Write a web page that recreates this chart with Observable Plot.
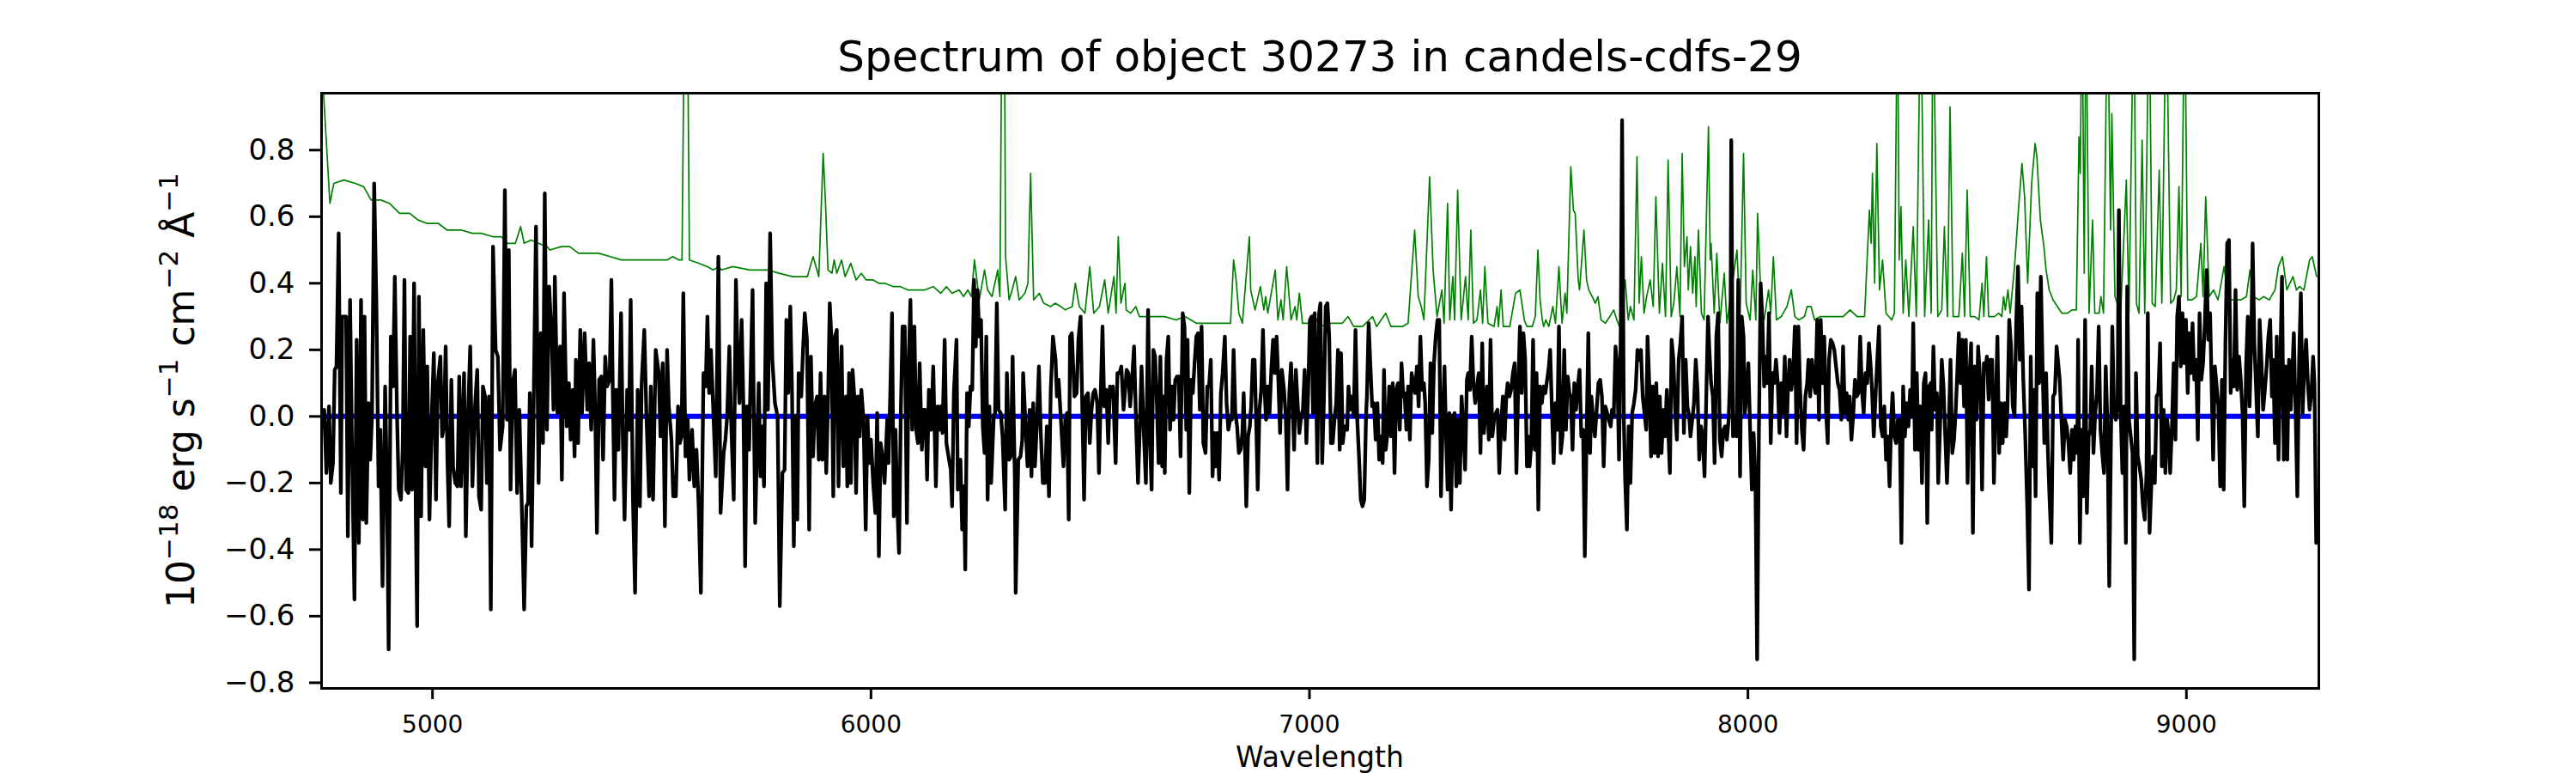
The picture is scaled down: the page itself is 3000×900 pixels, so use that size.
<!DOCTYPE html>
<html><head><meta charset="utf-8">
<script src="https://cdn.jsdelivr.net/npm/d3@7"></script>
<script src="https://cdn.jsdelivr.net/npm/@observablehq/plot@0.6"></script>
<style>
html,body{margin:0;padding:0;background:#fff;}
#chart{width:3000px;height:900px;}
</style></head><body><div id="chart"></div>
<script>
const titleText = "Spectrum of object 30273 in candels-cdfs-29";
const xLabelText = "Wavelength";
const yLabelParts = [["10",false],["\u221218",true],[" erg s",false],["\u22121",true],[" cm",false],["\u22122",true],[" \u00c5",false],["\u22121",true]];
const xTicks = [5000,6000,7000,8000,9000];
const yTicks = [-0.8,-0.6,-0.4,-0.2,0,0.2,0.4,0.6,0.8];
const xDomain = [4747, 9302];
const yDomain = [-0.817, 0.971];
const zeroLevel = [{x1: 4749, x2: 9285, y: 0}];

// observed spectrum [wavelength, flux]
const observed = [
[4749,-0.03],[4753,0.02],[4758,-0.17],[4764,0.03],[4768,-0.20],[4773,-0.14],[4777,0.14],[4781,0.15],[4786,0.55],[4791,-0.23],[4794,0.30],[4799,0.30],[4803,0.30],[4807,-0.36],[4812,0.35],[4816,-0.06],[4822,-0.55],[4827,0.23],[4832,-0.38],[4837,0.35],[4841,-0.31],[4845,0.30],[4849,-0.32],[4854,0.04],[4858,-0.13],[4862,0.00],[4867,0.70],[4872,0.34],[4877,-0.21],[4881,-0.04],[4886,-0.51],[4892,0.09],[4896,-0.20],[4900,-0.70],[4905,0.24],[4910,0.09],[4914,0.42],[4919,0.01],[4923,-0.22],[4928,-0.25],[4932,-0.10],[4936,0.41],[4940,-0.22],[4945,-0.23],[4949,0.24],[4953,-0.22],[4958,0.40],[4962,-0.31],[4965,-0.63],[4969,0.36],[4974,-0.30],[4979,0.26],[4984,-0.15],[4988,0.15],[4993,-0.31],[4999,0.03],[5003,0.19],[5008,-0.25],[5012,0.10],[5018,0.18],[5022,-0.06],[5026,-0.03],[5030,0.21],[5034,-0.13],[5038,-0.33],[5043,0.11],[5047,-0.15],[5052,-0.20],[5057,-0.21],[5061,0.12],[5065,-0.21],[5072,0.13],[5076,-0.36],[5081,0.00],[5086,0.21],[5091,-0.21],[5097,0.03],[5102,0.14],[5106,-0.24],[5111,-0.28],[5115,0.09],[5120,0.06],[5124,-0.20],[5129,0.06],[5133,-0.58],[5138,0.51],[5144,0.20],[5149,0.18],[5154,-0.10],[5160,-0.03],[5165,0.68],[5170,-0.01],[5174,0.50],[5178,-0.22],[5183,0.10],[5188,0.14],[5193,-0.23],[5198,0.02],[5204,-0.29],[5209,-0.58],[5214,-0.27],[5218,-0.26],[5222,0.07],[5226,-0.39],[5231,0.07],[5236,0.57],[5242,-0.20],[5247,0.25],[5252,-0.08],[5256,0.67],[5261,-0.04],[5266,0.39],[5272,0.23],[5276,0.02],[5279,0.42],[5285,0.01],[5291,0.21],[5295,-0.19],[5300,0.37],[5306,-0.03],[5311,0.10],[5315,-0.07],[5320,0.08],[5324,-0.12],[5327,0.17],[5332,-0.08],[5337,0.26],[5341,0.01],[5347,0.25],[5353,0.02],[5357,0.16],[5362,-0.04],[5367,0.23],[5371,0.02],[5375,-0.35],[5380,0.11],[5385,0.12],[5389,-0.13],[5394,0.18],[5398,0.09],[5404,0.11],[5408,0.41],[5411,0.09],[5415,-0.25],[5419,0.08],[5424,-0.10],[5430,0.31],[5434,-0.06],[5438,-0.31],[5444,0.08],[5448,-0.04],[5452,0.35],[5457,-0.24],[5462,-0.53],[5468,0.08],[5473,-0.27],[5477,0.10],[5483,0.26],[5488,0.00],[5494,-0.24],[5498,0.09],[5503,-0.25],[5509,0.20],[5516,0.13],[5520,-0.06],[5525,0.16],[5530,-0.33],[5535,0.20],[5539,0.03],[5545,-0.07],[5549,-0.24],[5555,-0.24],[5560,0.03],[5564,-0.08],[5568,-0.06],[5572,0.37],[5577,-0.12],[5582,-0.01],[5586,-0.19],[5592,-0.04],[5597,-0.21],[5602,-0.10],[5607,-0.27],[5612,-0.53],[5618,0.13],[5623,0.09],[5627,0.30],[5631,0.07],[5635,0.20],[5640,0.03],[5646,-0.18],[5652,0.48],[5657,-0.29],
[5664,-0.11],[5668,-0.07],[5672,0.00],[5677,0.21],[5681,-0.01],[5687,-0.25],[5692,0.41],[5696,0.17],[5700,0.04],[5705,0.29],[5709,0.04],[5713,-0.45],[5717,0.03],[5722,-0.10],[5724,0.03],[5730,0.38],[5732,0.11],[5736,-0.32],[5740,-0.10],[5744,0.10],[5748,-0.18],[5752,-0.03],[5756,-0.21],[5761,0.40],[5765,0.02],[5770,0.55],[5775,0.17],[5781,0.04],[5787,0.00],[5792,-0.57],[5798,-0.17],[5803,-0.16],[5807,0.29],[5811,0.07],[5816,0.33],[5820,0.07],[5824,-0.39],[5828,0.00],[5832,-0.31],[5835,0.13],[5841,0.06],[5845,0.20],[5849,0.31],[5854,0.23],[5859,-0.34],[5863,0.18],[5868,-0.12],[5872,0.03],[5877,0.06],[5881,-0.13],[5885,0.13],[5889,-0.13],[5894,0.06],[5898,-0.17],[5902,0.04],[5906,0.34],[5910,0.23],[5914,-0.24],[5918,0.24],[5922,0.26],[5926,-0.21],[5929,0.06],[5933,0.21],[5937,-0.15],[5943,0.06],[5946,-0.21],[5950,0.13],[5954,-0.20],[5958,0.14],[5962,0.06],[5966,-0.23],[5970,0.06],[5974,-0.06],[5978,0.08],[5983,-0.01],[5988,-0.34],[5992,0.00],[5996,-0.14],[6000,-0.07],[6005,-0.20],[6010,-0.29],[6014,0.01],[6018,-0.42],[6022,-0.08],[6027,-0.13],[6031,-0.20],[6037,-0.01],[6040,-0.14],[6044,0.07],[6048,0.31],[6052,-0.30],[6056,-0.04],[6060,-0.27],[6064,-0.41],[6068,0.01],[6072,0.27],[6077,0.27],[6082,-0.32],[6086,0.16],[6090,0.35],[6094,-0.04],[6099,0.27],[6103,-0.04],[6107,-0.08],[6111,0.16],[6116,-0.10],[6120,0.02],[6124,0.02],[6128,-0.19],[6132,0.08],[6137,-0.04],[6142,0.15],[6148,-0.21],[6152,0.03],[6155,-0.04],[6159,0.03],[6163,-0.05],[6168,0.23],[6172,-0.08],[6178,-0.13],[6182,-0.16],[6185,-0.27],[6189,0.07],[6195,0.23],[6198,-0.22],[6204,-0.13],[6208,-0.34],[6212,-0.21],[6215,-0.46],[6219,0.07],[6223,-0.03],[6227,0.09],[6231,0.08],[6235,0.41],[6239,0.21],[6243,0.38],[6247,0.24],[6251,0.29],[6255,-0.03],[6259,-0.11],[6263,0.24],[6266,-0.25],[6270,0.03],[6274,-0.20],[6280,0.00],[6283,0.01],[6287,0.34],[6291,0.02],[6296,0.01],[6300,-0.06],[6306,-0.28],[6310,0.13],[6315,-0.13],[6319,-0.12],[6323,0.18],[6328,-0.18],[6330,-0.53],[6336,-0.13],[6341,-0.12],[6345,-0.07],[6347,0.13],[6353,-0.04],[6357,-0.15],[6362,0.02],[6366,-0.18],[6370,0.04],[6374,-0.15],[6379,0.00],[6383,0.15],[6387,-0.04],[6392,-0.20],[6397,-0.20],[6401,-0.03],[6406,-0.24],[6410,0.08],[6415,0.24],[6421,0.17],[6424,0.06],[6428,0.11],[6434,-0.03],[6439,-0.15],[6443,-0.01],[6447,0.01],[6451,-0.31],[6454,0.24],[6458,0.25],[6464,0.06],[6469,0.07],[6473,0.23],[6478,0.30],[6482,0.02],[6486,-0.25],[6490,0.06],[6495,0.07],[6499,-0.08],[6503,0.02],[6507,0.07],[6511,0.08],[6516,0.04],[6520,-0.17],[6524,0.07],[6528,0.27],[6532,0.03],[6537,0.08],[6541,-0.08],[6545,0.09],[6549,0.06],[6552,0.09],[6558,-0.14],[6562,0.13],[6567,0.13],[6571,0.15],[6576,0.02],
[6579,0.07],[6583,0.14],[6587,0.13],[6591,0.03],[6594,0.08],[6600,0.21],[6605,-0.04],[6609,-0.20],[6613,-0.04],[6617,0.15],[6622,-0.04],[6627,-0.20],[6632,0.32],[6636,-0.06],[6640,-0.22],[6644,0.20],[6648,0.18],[6652,0.04],[6656,-0.14],[6660,0.18],[6664,-0.15],[6668,0.06],[6670,-0.17],[6674,0.17],[6678,0.24],[6682,-0.04],[6686,0.09],[6690,-0.01],[6694,0.11],[6698,0.12],[6702,0.12],[6706,-0.12],[6711,0.31],[6715,0.27],[6719,-0.04],[6722,0.23],[6726,-0.23],[6730,0.11],[6734,0.07],[6738,0.16],[6742,0.24],[6746,0.25],[6750,0.02],[6754,0.27],[6758,-0.08],[6763,-0.11],[6767,0.09],[6771,0.09],[6775,0.17],[6779,-0.18],[6783,-0.05],[6786,-0.15],[6790,-0.05],[6794,-0.19],[6798,0.07],[6802,0.13],[6807,0.24],[6811,0.04],[6815,-0.04],[6819,-0.01],[6823,-0.01],[6827,0.20],[6831,0.01],[6835,-0.03],[6839,-0.11],[6843,-0.10],[6847,-0.05],[6850,0.07],[6856,-0.27],[6860,-0.06],[6864,-0.03],[6867,0.03],[6871,0.17],[6875,0.17],[6879,-0.04],[6882,-0.22],[6886,0.02],[6890,0.08],[6894,0.26],[6897,0.10],[6901,-0.01],[6905,0.09],[6909,0.01],[6913,0.14],[6917,0.23],[6921,0.13],[6925,0.24],[6929,0.11],[6933,-0.05],[6937,0.14],[6942,0.08],[6946,0.00],[6950,-0.22],[6954,0.07],[6958,0.16],[6961,0.06],[6965,-0.10],[6969,0.14],[6973,0.04],[6977,-0.05],[6981,0.00],[6985,0.02],[6989,0.14],[6993,-0.08],[6997,0.07],[7001,0.29],[7005,0.30],[7008,0.01],[7012,0.31],[7018,-0.14],[7022,0.31],[7025,0.34],[7029,-0.14],[7033,0.05],[7037,0.33],[7041,0.34],[7045,0.24],[7049,-0.08],[7053,-0.08],[7057,-0.01],[7061,0.04],[7065,0.20],[7069,-0.10],[7072,0.19],[7076,-0.08],[7080,-0.03],[7086,-0.04],[7089,0.09],[7093,0.02],[7097,0.06],[7101,0.00],[7105,0.26],[7109,-0.01],[7113,-0.12],[7117,-0.25],[7121,-0.27],[7125,-0.25],[7129,0.00],[7131,0.06],[7135,0.28],[7139,0.15],[7143,0.03],[7147,0.04],[7151,-0.07],[7155,0.04],[7159,-0.13],[7163,-0.06],[7167,-0.14],[7170,0.14],[7174,-0.10],[7178,-0.05],[7182,0.09],[7186,-0.06],[7190,0.10],[7194,-0.17],[7198,0.08],[7202,0.10],[7206,-0.04],[7210,0.16],[7214,0.06],[7217,0.07],[7221,-0.04],[7225,0.09],[7229,-0.07],[7233,0.13],[7237,0.10],[7241,0.07],[7245,0.15],[7249,0.03],[7253,0.24],[7257,0.08],[7261,0.10],[7264,0.04],[7268,-0.21],[7272,-0.13],[7276,0.16],[7280,-0.05],[7284,0.16],[7288,0.24],[7292,0.29],[7296,0.29],[7300,-0.24],[7304,-0.01],[7308,0.15],[7311,-0.03],[7315,-0.22],[7319,0.01],[7323,-0.28],[7327,0.00],[7331,0.01],[7335,-0.21],[7339,-0.01],[7343,-0.20],[7347,0.06],[7351,-0.04],[7355,-0.16],[7359,0.11],[7362,0.13],[7366,0.08],[7370,0.24],[7374,0.10],[7378,0.04],[7382,0.09],[7386,0.13],[7390,-0.11],[7394,0.22],[7398,-0.05],[7402,0.03],[7405,0.09],[7409,-0.07],[7413,0.23],[7417,-0.06],[7421,-0.01],[7425,0.01],[7429,0.02],[7433,-0.17],[7437,-0.03],[7441,0.06],[7445,-0.07],[7449,0.06],[7452,0.10],[7456,0.06],[7460,0.08],[7464,0.13],[7468,0.16],[7472,-0.17],[7476,0.08],[7480,0.27],[7484,0.07],[7488,0.25],[7492,0.17],[7496,-0.15],
[7499,-0.06],[7502,-0.15],[7506,-0.08],[7510,0.23],[7514,-0.10],[7518,0.13],[7522,-0.28],[7526,0.09],[7530,0.04],[7534,0.09],[7538,0.07],[7542,0.11],[7546,0.15],[7549,0.20],[7553,0.02],[7557,-0.14],[7561,0.04],[7565,-0.04],[7569,0.27],[7573,-0.11],[7577,-0.06],[7581,0.20],[7585,-0.04],[7589,0.12],[7593,0.07],[7596,0.06],[7600,-0.10],[7604,0.10],[7608,0.02],[7612,0.09],[7616,0.14],[7620,-0.06],[7624,-0.04],[7628,-0.42],[7632,-0.06],[7636,0.25],[7640,-0.11],[7643,0.06],[7647,-0.01],[7651,-0.06],[7655,0.02],[7659,0.10],[7663,0.11],[7667,0.06],[7671,-0.15],[7675,0.03],[7679,0.01],[7683,-0.01],[7687,-0.03],[7690,0.02],[7694,0.00],[7698,0.21],[7702,0.15],[7706,-0.13],[7710,0.27],[7713,0.89],[7717,-0.01],[7720,-0.19],[7724,-0.34],[7728,-0.03],[7732,-0.20],[7736,0.01],[7740,0.04],[7744,0.08],[7748,0.20],[7752,0.17],[7756,0.20],[7760,0.06],[7764,0.01],[7768,-0.04],[7771,0.24],[7775,0.10],[7779,-0.12],[7783,0.09],[7787,-0.11],[7791,0.10],[7795,-0.12],[7799,0.06],[7803,-0.11],[7807,0.02],[7811,-0.06],[7815,0.08],[7818,-0.03],[7822,-0.17],[7826,0.23],[7830,0.17],[7834,0.02],[7838,-0.07],[7842,0.17],[7846,0.22],[7850,0.30],[7854,-0.05],[7858,0.17],[7862,0.03],[7866,0.00],[7869,-0.06],[7873,-0.01],[7877,0.04],[7881,0.17],[7885,0.08],[7889,-0.13],[7893,-0.03],[7897,-0.06],[7901,-0.18],[7905,0.06],[7909,0.30],[7912,0.20],[7916,0.10],[7920,0.06],[7924,-0.14],[7928,0.24],[7932,0.31],[7936,-0.07],[7940,-0.12],[7944,-0.04],[7948,-0.03],[7952,-0.07],[7956,-0.01],[7960,0.15],[7962,0.83],[7966,-0.06],[7970,0.00],[7974,-0.06],[7978,0.41],[7982,-0.18],[7986,0.30],[7990,0.24],[7993,0.01],[7997,0.07],[8001,0.16],[8005,-0.04],[8009,-0.22],[8013,-0.05],[8017,-0.18],[8021,-0.73],[8025,-0.05],[8029,0.40],[8033,0.29],[8037,0.09],[8040,0.18],[8044,0.10],[8048,0.31],[8052,-0.08],[8056,0.13],[8060,0.10],[8064,0.17],[8068,0.10],[8072,-0.05],[8076,0.10],[8080,0.01],[8084,0.18],[8088,-0.06],[8091,0.07],[8095,0.17],[8099,0.08],[8103,0.13],[8107,0.27],[8111,-0.08],[8115,0.27],[8119,0.08],[8123,-0.04],[8127,-0.10],[8131,0.06],[8135,0.10],[8138,0.17],[8142,0.06],[8146,0.17],[8150,0.10],[8154,0.07],[8158,0.29],[8162,-0.01],[8166,0.29],[8170,0.10],[8174,0.24],[8178,0.02],[8182,-0.08],[8185,0.17],[8189,0.23],[8193,0.22],[8197,0.20],[8201,0.15],[8205,0.10],[8209,0.08],[8213,-0.01],[8217,0.21],[8221,0.01],[8225,0.07],[8229,-0.01],[8232,0.06],[8236,-0.07],[8240,0.00],[8244,0.11],[8248,0.06],[8252,0.07],[8256,0.24],[8260,0.08],[8264,0.01],[8268,0.13],[8272,0.10],[8276,0.22],[8280,0.15],[8283,0.08],[8287,-0.06],[8291,0.06],[8295,0.17],[8299,0.27],[8303,-0.03],[8307,-0.06],[8311,0.03],[8315,-0.13],[8319,-0.06],[8323,-0.21],[8327,0.00],[8330,0.07],[8334,-0.06],[8338,-0.08],[8342,-0.01],[8346,-0.01],[8350,-0.38],[8354,0.09],[8358,-0.06],[8362,0.04],[8366,-0.03],[8370,0.08],[8374,0.00],[8377,0.28],[8381,-0.10],[8385,0.13],[8389,-0.10],[8393,0.03],[8397,-0.20],[8401,0.10],[8405,0.13],[8409,-0.32],[8413,0.09],[8417,0.10],
[8419,-0.04],[8423,0.21],[8427,0.02],[8431,0.07],[8434,-0.20],[8438,-0.04],[8442,0.17],[8446,0.09],[8450,-0.06],[8454,-0.20],[8458,-0.04],[8462,0.17],[8466,-0.11],[8470,-0.07],[8474,0.02],[8478,0.15],[8481,0.25],[8485,0.10],[8489,0.23],[8493,0.03],[8497,0.23],[8501,-0.20],[8505,0.11],[8509,0.22],[8513,-0.35],[8517,0.15],[8521,-0.01],[8525,0.21],[8530,0.10],[8534,-0.22],[8538,0.16],[8542,0.14],[8545,0.18],[8549,0.05],[8553,0.17],[8557,0.17],[8561,-0.20],[8565,0.03],[8569,0.24],[8573,-0.11],[8577,0.04],[8581,-0.08],[8585,0.04],[8589,-0.06],[8592,0.03],[8596,0.29],[8600,0.21],[8604,0.03],[8608,0.00],[8612,0.29],[8616,0.45],[8620,0.17],[8624,0.33],[8628,0.11],[8632,-0.04],[8637,-0.27],[8641,-0.52],[8645,0.18],[8649,-0.15],[8653,0.08],[8656,-0.24],[8660,0.37],[8664,0.10],[8668,0.42],[8672,0.15],[8676,-0.08],[8680,0.13],[8684,-0.10],[8688,-0.25],[8692,-0.38],[8696,0.06],[8700,0.07],[8704,0.21],[8707,0.17],[8711,0.11],[8715,-0.01],[8719,-0.13],[8723,-0.01],[8727,-0.03],[8731,-0.08],[8735,-0.17],[8739,-0.04],[8743,-0.13],[8747,-0.03],[8751,-0.11],[8753,0.23],[8757,-0.38],[8761,-0.04],[8765,-0.24],[8769,0.29],[8773,-0.29],[8777,-0.06],[8781,-0.04],[8784,0.15],[8788,-0.11],[8792,0.01],[8796,0.07],[8800,0.27],[8804,-0.04],[8808,-0.11],[8812,-0.17],[8816,0.15],[8820,-0.03],[8824,-0.51],[8828,-0.06],[8831,0.27],[8835,0.02],[8839,-0.01],[8843,0.03],[8846,0.62],[8850,0.02],[8854,-0.17],[8858,0.03],[8862,-0.38],[8865,0.39],[8869,-0.01],[8873,-0.06],[8877,-0.11],[8881,-0.73],[8885,0.13],[8889,-0.12],[8893,-0.15],[8897,-0.19],[8901,-0.27],[8905,-0.31],[8909,-0.17],[8912,0.31],[8916,-0.35],[8920,-0.21],[8924,-0.12],[8928,-0.20],[8932,0.06],[8936,0.07],[8940,0.22],[8944,-0.15],[8948,0.02],[8952,-0.17],[8956,-0.01],[8960,-0.06],[8963,-0.17],[8967,-0.03],[8971,0.16],[8975,-0.07],[8979,0.30],[8983,0.36],[8987,0.15],[8991,0.31],[8995,0.16],[8999,0.29],[9003,0.07],[9006,0.25],[9010,0.13],[9014,0.28],[9018,0.11],[9022,0.17],[9026,-0.07],[9030,0.31],[9034,0.11],[9038,0.16],[9042,0.28],[9046,0.44],[9050,0.23],[9054,0.31],[9057,0.13],[9061,-0.13],[9065,0.15],[9069,0.09],[9073,0.03],[9077,-0.21],[9081,0.11],[9085,-0.22],[9089,0.22],[9093,0.52],[9097,0.53],[9101,0.07],[9104,0.17],[9108,0.09],[9112,0.38],[9116,0.08],[9120,0.18],[9124,0.11],[9128,0.01],[9132,-0.27],[9136,0.15],[9140,0.30],[9144,0.03],[9148,0.23],[9151,0.52],[9155,0.22],[9159,0.08],[9163,-0.06],[9167,0.29],[9171,0.17],[9175,0.02],[9179,0.08],[9183,0.15],[9187,0.24],[9191,0.29],[9195,0.06],[9198,0.17],[9202,-0.08],[9206,0.24],[9210,-0.13],[9214,0.15],[9218,0.42],[9222,-0.13],[9226,0.15],[9230,-0.13],[9234,0.17],[9238,0.02],[9242,0.15],[9245,0.25],[9249,0.02],[9253,-0.24],[9257,0.17],[9261,0.37],[9265,0.01],[9269,0.15],[9273,0.23],[9277,0.10],[9281,0.02],[9285,0.07],[9289,0.18],[9292,0.10],[9296,-0.38]
];

// model / sky-noise curve [wavelength, flux]; spikes above the frame are clipped
const model = [
[4748,1.05],[4766,0.64],[4775,0.70],[4798,0.71],[4824,0.70],[4843,0.69],[4860,0.65],[4869,0.65],[4882,0.65],[4902,0.64],[4925,0.61],[4948,0.61],[4967,0.59],[4987,0.58],[5013,0.58],[5033,0.56],[5065,0.56],[5091,0.55],[5111,0.55],[5137,0.54],[5157,0.54],[5170,0.52],[5189,0.52],[5201,0.57],[5209,0.52],[5225,0.53],[5242,0.52],[5261,0.51],[5268,0.50],[5294,0.51],[5313,0.51],[5333,0.49],[5359,0.49],[5379,0.49],[5405,0.48],[5431,0.47],[5457,0.47],[5483,0.47],[5509,0.47],[5535,0.47],[5548,0.48],[5562,0.47],[5569,0.47],[5575,1.3],[5581,1.3],[5586,0.47],[5607,0.46],[5627,0.45],[5640,0.44],[5653,0.45],
[5659,0.44],[5685,0.45],[5724,0.44],[5764,0.44],[5790,0.43],[5822,0.42],[5855,0.42],[5868,0.48],[5881,0.42],[5891,0.79],[5896,0.65],[5902,0.44],[5911,0.43],[5916,0.47],[5922,0.43],[5933,0.47],[5941,0.42],[5954,0.46],[5966,0.41],[5978,0.43],[5989,0.41],[6005,0.41],[6018,0.40],[6031,0.40],[6051,0.39],[6067,0.39],[6084,0.38],[6103,0.38],[6123,0.38],[6142,0.39],[6159,0.37],[6172,0.39],[6185,0.37],[6201,0.38],[6211,0.36],[6221,0.38],[6229,0.36],[6236,0.47],[6247,0.35],[6259,0.44],[6266,0.38],[6276,0.36],[6289,0.44],[6294,0.36],[6299,1.3],[6304,1.3],[6307,0.48],[6315,0.35],[6322,0.38],[6330,0.42],[6338,0.35],[6351,0.37],[6358,0.40],[6364,0.73],[6371,0.35],[6384,0.37],[6394,0.34],[6410,0.33],[6420,0.34],[6433,0.33],[6443,0.32],[6459,0.33],[6466,0.40],[6475,0.33],[6488,0.31],[6499,0.45],[6508,0.31],[6521,0.33],[6533,0.41],[6541,0.31],[6554,0.42],[6559,0.31],[6564,0.54],[6570,0.34],[6579,0.40],
[6582,0.32],[6592,0.31],[6604,0.33],[6612,0.30],[6631,0.30],[6657,0.30],[6670,0.30],[6696,0.29],[6716,0.30],[6742,0.28],[6775,0.28],[6801,0.28],[6820,0.28],[6827,0.47],[6832,0.42],[6839,0.31],[6847,0.28],[6863,0.54],[6866,0.38],[6876,0.32],[6888,0.39],[6896,0.32],[6900,0.36],[6905,0.31],[6922,0.44],[6928,0.29],[6935,0.35],[6940,0.29],[6948,0.45],[6958,0.29],[6967,0.33],[6971,0.29],[6977,0.37],[6984,0.28],[6997,0.28],[7010,0.31],[7023,0.27],[7049,0.28],[7075,0.28],[7088,0.30],[7101,0.27],[7121,0.27],[7144,0.30],[7153,0.27],[7174,0.31],[7186,0.27],[7212,0.27],[7225,0.28],[7240,0.56],[7248,0.36],[7255,0.33],[7261,0.29],[7274,0.72],[7282,0.44],[7291,0.30],[7302,0.38],[7307,0.28],[7315,0.64],[7320,0.29],[7327,0.42],[7331,0.29],[7338,0.68],[7346,0.29],[7356,0.42],[7362,0.29],[7368,0.56],[7374,0.28],[7382,0.29],[7390,0.38],[7395,0.28],[7400,0.45],[7407,0.28],[7421,0.27],[7428,0.33],[7431,0.27],[7437,0.38],[7442,0.27],[7457,0.27],[7470,0.37],[7480,0.38],[7490,0.29],[7496,0.27],
[7508,0.27],[7515,0.30],[7521,0.50],[7526,0.35],[7531,0.29],[7534,0.27],[7539,0.29],[7546,0.27],[7555,0.33],[7561,0.28],[7569,0.45],[7576,0.28],[7583,0.37],[7587,0.31],[7596,0.75],[7602,0.62],[7606,0.61],[7613,0.41],[7616,0.38],[7626,0.56],[7632,0.41],[7637,0.38],[7645,0.36],[7652,0.34],[7658,0.36],[7665,0.29],[7675,0.28],[7685,0.30],[7694,0.32],[7701,0.29],[7707,0.27],[7720,0.41],[7727,0.29],[7732,0.33],[7740,0.29],[7747,0.78],[7752,0.34],[7757,0.48],[7763,0.31],[7769,0.36],[7777,0.41],[7784,0.33],[7790,0.66],[7798,0.31],[7805,0.46],[7812,0.30],[7818,0.77],[7825,0.30],[7831,0.34],[7838,0.45],[7845,0.30],[7850,0.79],[7855,0.45],[7861,0.54],[7864,0.38],[7869,0.51],[7874,0.37],[7879,0.48],[7882,0.33],[7887,0.56],[7894,0.31],[7900,0.29],[7910,0.87],[7914,0.47],[7916,0.52],[7923,0.31],[7929,0.49],[7936,0.28],[7946,0.43],[7952,0.28],[7975,0.50],[7982,0.29],[7990,0.79],[7996,0.34],[8005,0.29],[8011,0.44],[8018,0.29],[8022,0.61],[8031,0.31],[8037,0.29],[8047,0.38],[8052,0.31],[8058,0.48],[8065,0.29],[8076,0.30],[8089,0.33],[8099,0.38],[8107,0.30],[8116,0.29],[8129,0.30],[8135,0.33],[8144,0.33],[8152,0.29],[8165,0.30],[8184,0.30],[8204,0.30],[8217,0.30],[8233,0.32],[8249,0.30],[8266,0.30],[8277,0.62],[8281,0.52],[8284,0.73],[8289,0.40],[8294,0.82],[8300,0.38],[8307,0.47],[8315,0.31],[8328,0.29],[8334,0.31],[8341,1.3],[8345,0.47],[8349,0.63],[8354,0.31],[8360,0.47],[8367,0.30],[8377,0.57],[8384,0.30],[8394,1.3],[8403,0.30],[8412,0.59],[8418,0.31],
[8422,1.3],[8433,0.30],[8442,0.32],[8448,0.57],[8455,0.30],[8461,0.93],[8468,0.30],[8481,0.30],[8489,0.49],[8494,0.30],[8500,0.68],[8507,0.30],[8517,0.30],[8527,0.29],[8534,0.40],[8538,0.30],[8544,0.48],[8549,0.30],[8562,0.30],[8572,0.31],[8579,0.30],[8583,0.36],[8587,0.32],[8593,0.38],[8598,0.31],[8608,0.45],[8618,0.64],[8625,0.76],[8631,0.66],[8638,0.40],[8647,0.70],[8655,0.82],[8659,0.78],[8667,0.59],[8675,0.51],[8680,0.44],[8687,0.38],[8696,0.35],[8706,0.33],[8716,0.31],[8729,0.31],[8739,0.32],[8749,0.32],[8755,0.84],[8758,0.73],[8762,1.3],[8767,0.43],[8771,1.3],[8778,0.31],[8786,0.59],[8791,0.31],[8801,0.31],[8805,0.36],[8811,0.31],[8820,1.3],[8827,0.56],[8830,0.91],[8837,0.36],[8850,0.31],[8863,0.71],[8869,0.31],[8880,1.3],[8886,0.34],[8892,0.31],[8899,0.83],[8905,0.31],[8915,1.3],[8922,0.34],[8929,0.33],[8938,0.74],[8944,0.34],[8954,1.3],[8964,0.34],[8971,0.35],[8977,0.38],[8983,0.69],[8988,0.36],[8996,1.3],[9003,0.35],[9013,0.35],[9023,0.36],[9033,0.52],[9038,0.36],[9044,0.66],[9052,0.36],[9062,0.38],[9072,0.35],[9078,0.39],[9086,0.45],[9095,0.35],[9111,0.35],[9124,0.35],[9137,0.36],[9145,0.44],[9153,0.36],[9166,0.35],[9176,0.36],[9189,0.35],[9202,0.38],[9210,0.45],[9219,0.48],[9229,0.38],[9243,0.42],[9251,0.38],[9258,0.39],[9268,0.38],[9281,0.47],[9287,0.48],[9297,0.42]
];

const obsRows = observed.map(([w, f]) => ({w, f}));
const modelRows = model.map(([w, f]) => ({w, f}));

const W = 3000, H = 900;
const mL = 374, mR = 300, mT = 108, mB = 99;

const chart = Plot.plot({
  width: W, height: H,
  marginLeft: mL, marginRight: mR, marginTop: mT, marginBottom: mB,
  style: {fontFamily: "DejaVu Sans", background: "white", color: "black"},
  x: {domain: xDomain},
  y: {domain: yDomain},
  marks: [
    Plot.line(modelRows, {x: "w", y: "f", stroke: "#008000", strokeWidth: 1.7, clip: true}),
    Plot.ruleY(zeroLevel, {x1: "x1", x2: "x2", y: "y", stroke: "#0000ff", strokeWidth: 6, clip: true}),
    Plot.line(obsRows, {x: "w", y: "f", stroke: "black", strokeWidth: 4.3, clip: true}),
    Plot.frame({stroke: "black", strokeWidth: 3}),
    Plot.axisX({ticks: xTicks, tickFormat: d3.format("d"), tickSize: 13, tickPadding: 19, fontSize: 28, strokeWidth: 3, label: null}),
    Plot.axisY({ticks: yTicks, tickFormat: d3.format(".1f"), tickSize: 14, tickPadding: 17, fontSize: 34, strokeWidth: 3, label: null})
  ]
});

const svg = d3.select(chart);
const cx = mL + (W - mL - mR) / 2;
svg.append("text")
  .attr("x", cx).attr("y", 83)
  .attr("text-anchor", "middle")
  .attr("font-family", "DejaVu Sans").attr("font-size", 50).attr("fill", "black")
  .text(titleText);
svg.append("text")
  .attr("x", cx).attr("y", 893)
  .attr("text-anchor", "middle")
  .attr("font-family", "DejaVu Sans").attr("font-size", 33).attr("fill", "black")
  .text(xLabelText);

const cy = mT + (H - mT - mB) / 2;
const yl = svg.append("text")
  .attr("transform", `translate(226,${cy}) rotate(-90)`)
  .attr("text-anchor", "middle")
  .attr("font-family", "DejaVu Sans").attr("font-size", 44).attr("fill", "black")
  .style("white-space", "pre");
let shifted = false;
for (const [txt, sup] of yLabelParts) {
  const t = yl.append("tspan").text(txt);
  if (sup && !shifted) { t.attr("dy", -19); shifted = true; }
  else if (!sup && shifted) { t.attr("dy", 19); shifted = false; }
  if (sup) t.attr("font-size", 31);
}

document.getElementById("chart").appendChild(chart);
</script>
</body></html>
